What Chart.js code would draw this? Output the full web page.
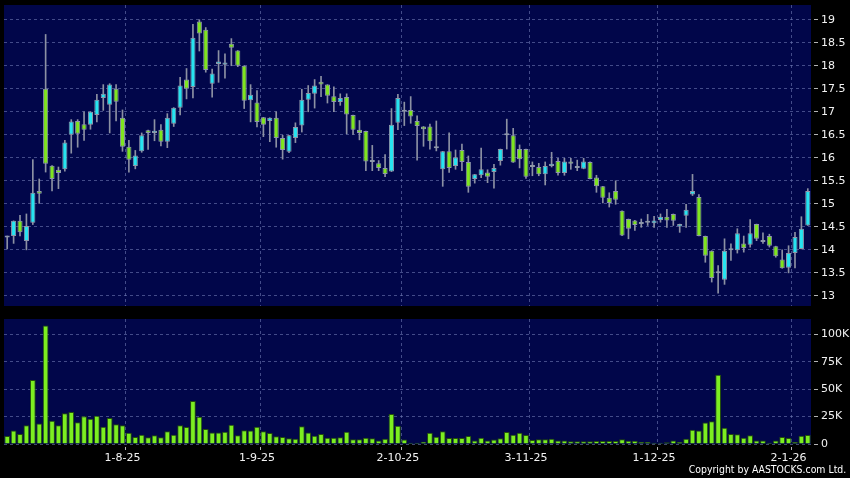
<!DOCTYPE html>
<html>
<head>
<meta charset="utf-8">
<script src="https://cdn.jsdelivr.net/npm/chart.js@4.4.1/dist/chart.umd.min.js"></script>
<style>
  html, body { margin: 0; padding: 0; background: #000; }
  #wrap { position: relative; width: 850px; height: 478px; overflow: hidden; background: #000; }
  #priceChart { position: absolute; left: 0; top: 0; }
  #volumeChart { position: absolute; left: 0; top: 312px; }
  #copy {
    position: absolute; right: 4px; top: 463px;
    font: 11px "DejaVu Sans", sans-serif; line-height: 13px; color: #fff;
    white-space: nowrap; transform: scaleX(0.85); transform-origin: right center;
  }
</style>
</head>
<body>
<div id="wrap">
  <canvas id="priceChart" width="850" height="312"></canvas>
  <canvas id="volumeChart" width="850" height="166"></canvas>
  <div id="copy">Copyright by AASTOCKS.com Ltd.</div>
</div>
<script>
// trading days, d-m-yy
const dates = [
  '8-7-25','9-7-25','10-7-25','11-7-25','14-7-25','15-7-25','16-7-25','17-7-25','18-7-25','21-7-25',
  '22-7-25','23-7-25','24-7-25','25-7-25','28-7-25','29-7-25','30-7-25','31-7-25',
  '1-8-25','4-8-25','5-8-25','6-8-25','7-8-25','8-8-25','11-8-25','12-8-25','13-8-25','14-8-25',
  '15-8-25','18-8-25','19-8-25','20-8-25','21-8-25','22-8-25','25-8-25','26-8-25','27-8-25','28-8-25','29-8-25',
  '1-9-25','2-9-25','3-9-25','4-9-25','5-9-25','8-9-25','9-9-25','10-9-25','11-9-25','12-9-25',
  '15-9-25','16-9-25','17-9-25','18-9-25','19-9-25','22-9-25','23-9-25','24-9-25','25-9-25','26-9-25','29-9-25','30-9-25',
  '2-10-25','3-10-25','6-10-25','8-10-25','9-10-25','10-10-25','13-10-25','14-10-25','15-10-25','16-10-25',
  '17-10-25','20-10-25','21-10-25','22-10-25','23-10-25','24-10-25','27-10-25','28-10-25','30-10-25','31-10-25',
  '3-11-25','4-11-25','5-11-25','6-11-25','7-11-25','10-11-25','11-11-25','12-11-25','13-11-25','14-11-25',
  '17-11-25','18-11-25','19-11-25','20-11-25','21-11-25','24-11-25','25-11-25','26-11-25','27-11-25','28-11-25',
  '1-12-25','2-12-25','3-12-25','4-12-25','5-12-25','8-12-25','9-12-25','10-12-25','11-12-25','12-12-25',
  '15-12-25','16-12-25','17-12-25','18-12-25','19-12-25','22-12-25','23-12-25','24-12-25','29-12-25','30-12-25','31-12-25',
  '2-1-26','5-1-26','6-1-26','7-1-26'
];

const openPx = [
  14.27,14.30,14.63,14.19,14.59,15.28,17.50,15.83,15.74,15.75,
  16.50,16.80,16.73,16.72,16.93,17.30,17.15,17.50,16.87,16.24,
  15.82,16.14,16.60,16.54,16.61,16.35,16.74,17.09,17.70,17.54,
  18.96,18.78,17.61,18.04,18.02,18.48,18.33,18.00,17.25,17.20,
  16.88,16.80,16.87,16.43,16.13,16.43,16.70,17.26,17.39,17.65,
  17.59,17.34,17.21,17.32,16.93,16.61,16.58,15.91,15.88,15.78,
  15.70,16.76,17.00,17.04,16.80,16.68,16.68,16.21,15.75,16.14,
  15.82,16.17,15.91,15.54,15.62,15.68,15.69,15.93,16.49,16.49,
  16.19,16.19,15.80,15.80,15.64,15.82,15.93,15.67,15.92,15.78,
  15.76,15.91,15.57,15.38,15.13,15.28,14.85,14.67,14.64,14.56,
  14.59,14.58,14.65,14.72,14.78,14.51,14.74,15.20,15.15,14.30,
  13.98,13.49,13.35,13.99,13.99,14.14,14.11,14.56,14.17,14.30,
  14.08,13.79,13.61,13.93,14.02,14.53
];
const highPx = [
  14.30,14.63,14.75,14.78,15.96,15.54,18.68,15.83,15.80,16.38,
  16.83,16.83,17.00,17.00,17.38,17.59,17.61,17.59,17.04,16.38,
  16.16,16.54,16.60,16.83,16.72,16.96,17.09,17.75,17.94,18.90,
  19.00,18.83,17.93,18.33,18.26,18.59,18.33,18.00,17.59,17.46,
  16.88,16.87,17.00,16.49,16.49,16.76,17.49,17.57,17.70,17.77,
  17.59,17.54,17.39,17.39,16.93,16.81,16.58,16.27,15.94,16.07,
  17.07,17.38,17.21,17.33,16.91,16.68,16.73,16.80,16.14,16.54,
  16.17,16.30,16.04,15.64,16.21,15.74,15.86,16.19,16.84,16.64,
  16.28,16.19,15.91,15.88,15.91,16.12,15.99,15.99,15.99,15.95,
  15.99,15.91,15.62,15.38,15.24,15.50,14.85,14.67,14.64,14.67,
  14.77,14.73,14.78,14.88,14.78,14.56,14.99,15.64,15.20,14.30,
  13.98,13.66,14.24,14.13,14.46,14.30,14.66,14.56,14.37,14.34,
  14.08,14.00,14.09,14.38,14.72,15.33
];
const lowPx = [
  14.02,14.14,14.30,14.00,14.55,15.01,15.69,15.28,15.33,15.71,
  16.10,16.23,16.38,16.62,16.78,17.03,16.54,16.80,16.14,15.69,
  15.76,16.12,16.18,16.37,16.26,16.22,16.68,16.93,17.28,17.30,
  18.32,17.86,17.32,17.64,17.73,18.00,17.98,17.07,16.78,16.67,
  16.46,16.35,16.23,15.97,16.11,16.33,16.56,17.00,17.08,17.33,
  17.19,17.00,17.14,16.52,16.51,16.39,15.72,15.72,15.72,15.59,
  15.70,16.61,16.70,16.75,15.95,16.25,16.19,16.15,15.38,15.68,
  15.75,15.72,15.25,15.45,15.57,15.46,15.34,15.84,16.19,15.90,
  15.78,15.55,15.61,15.61,15.41,15.80,15.62,15.62,15.75,15.72,
  15.76,15.54,15.25,15.02,14.93,14.99,14.31,14.24,14.42,14.49,
  14.53,14.49,14.60,14.49,14.53,14.38,14.49,15.18,14.30,13.73,
  13.30,13.06,13.25,13.77,13.93,13.95,14.06,14.20,14.14,14.06,
  13.84,13.60,13.50,13.61,14.02,14.53
];
const closePx = [
  14.27,14.63,14.38,14.52,15.24,15.22,15.87,15.54,15.67,16.33,
  16.79,16.52,16.61,17.00,17.26,17.39,17.59,17.22,16.24,15.96,
  16.05,16.49,16.54,16.59,16.35,16.87,17.09,17.57,17.50,18.61,
  18.70,17.91,17.83,18.09,18.07,18.39,18.00,17.24,17.37,16.78,
  16.72,16.87,16.43,16.17,16.49,16.67,17.26,17.41,17.57,17.59,
  17.35,17.21,17.30,16.94,16.61,16.54,15.92,15.91,15.78,15.65,
  16.72,17.30,17.04,16.90,16.69,16.62,16.36,16.21,16.14,15.78,
  16.01,15.91,15.37,15.64,15.75,15.59,15.78,16.19,16.49,15.90,
  15.97,15.59,15.80,15.64,15.82,15.87,15.67,15.92,15.87,15.78,
  15.92,15.54,15.38,15.13,15.02,15.09,14.31,14.46,14.54,14.56,
  14.59,14.64,14.72,14.64,14.63,14.56,14.87,15.28,14.30,13.87,
  13.39,13.49,13.98,13.99,14.36,14.04,14.36,14.24,14.17,14.09,
  13.86,13.60,13.93,14.28,14.46,15.28
];
const volume = [
  7300,12200,9100,17000,58400,18800,108000,21300,17000,28000,
  29200,19800,25200,23100,25800,15800,23700,17900,17000,10300,
  6400,8500,6100,7900,6100,11600,8500,17000,15500,39200,
  24900,13700,10600,10600,11200,17600,7900,12500,12200,15800,
  11600,10000,7000,6400,5200,4900,16100,10600,7600,9100,
  5800,5800,6100,11200,4300,4300,5800,5200,3300,4900,
  27400,16700,4000,1200,1200,2100,10300,6700,11600,5500,
  5500,5500,7300,3300,5800,3300,4000,5200,10900,8500,
  10300,8200,3600,4300,4300,4900,3300,3300,2400,2400,
  2400,2400,2700,2700,2700,2700,4300,3000,3000,1800,
  1800,1200,1200,1500,3300,1800,4900,13100,12200,19500,
  20700,63200,14900,9100,8800,5800,7900,3300,3300,1200,
  3300,6400,5500,1800,7600,8200
];

const tickDates = ['1-8-25', '1-9-25', '2-10-25', '3-11-25', '1-12-25', '2-1-26'];
const priceTickValues = [13, 13.5, 14, 14.5, 15, 15.5, 16, 16.5, 17, 17.5, 18, 18.5, 19];
const volumeTickValues = [0, 25000, 50000, 75000, 100000];
const priceRange = { min: 12.78, max: 19.32 };
const volumeRange = { min: 0, max: 114000 };

const PANEL = '#01064a';
const GRID = 'rgba(112,122,180,0.6)';
const UP = '#27e4f0';
const DOWN = '#7fe51f';
const FLAT = '#a9b1c9';
const WICK = '#8c91a3';
const VOL = '#7cee20';
const TXT = '#f2f2f2';

Chart.defaults.font.family = '"DejaVu Sans", sans-serif';
Chart.defaults.font.size = 11;
Chart.defaults.color = TXT;

const tickIdx = tickDates.map(d => dates.indexOf(d));
// offset grid lines fall half a day after the labelled candle, as in the reference
const gridIdx = new Set(tickIdx.map(i => i + 1));
const xGridColor = ctx => gridIdx.has(ctx.index) ? GRID : 'rgba(0,0,0,0)';

const bodyColors = closePx.map((c, i) => c > openPx[i] ? UP : (c < openPx[i] ? DOWN : FLAT));

const panelBg = {
    id: 'panelBg',
    beforeDraw(chart) {
        const a = chart.chartArea;
        const ctx = chart.ctx;
        ctx.save();
        ctx.fillStyle = PANEL;
        ctx.fillRect(a.left, a.top, a.right - a.left, a.bottom - a.top);
        ctx.restore();
    }
};

function rightAxis(range, values, fmt) {
    return {
        position: 'right',
        min: range.min,
        max: range.max,
        afterFit: axis => {
            axis.width = 39;
            // labels sit inside the panel, no extra room needed above/below
            axis.paddingTop = 0;
            axis.paddingBottom = 0;
        },
        afterBuildTicks: axis => { axis.ticks = values.map(v => ({ value: v })); },
        border: { display: false, dash: [3, 3] },
        grid: {
            color: GRID,
            tickLength: 8,
            tickColor: '#b4b4b4',
            tickBorderDash: [0, 3, 4, 20]
        },
        ticks: {
            padding: 2,
            color: TXT,
            callback: fmt
        }
    };
}

new Chart(document.getElementById('priceChart'), {
    type: 'bar',
    data: {
        labels: dates,
        datasets: [{
            label: 'High-Low',
            data: dates.map((_, i) => [lowPx[i], highPx[i]]),
            backgroundColor: WICK,
            barThickness: 1,
            grouped: false,
            order: 2
        }, {
            label: 'Open-Close',
            data: dates.map((_, i) => [openPx[i], closePx[i]]),
            backgroundColor: bodyColors,
            borderColor: '#8e97aa',
            borderWidth: 1,
            borderSkipped: false,
            barPercentage: 0.8,
            categoryPercentage: 1,
            minBarLength: 2,
            grouped: false,
            order: 1
        }]
    },
    options: {
        responsive: false,
        animation: false,
        layout: { padding: { left: 4, top: 5, right: 0, bottom: 6 } },
        plugins: { legend: { display: false }, tooltip: { enabled: false } },
        scales: {
            x: {
                offset: true,
                afterFit: axis => { axis.height = 0; },
                border: { display: false, dash: [3, 3] },
                grid: { offset: true, color: xGridColor, drawTicks: false },
                ticks: { display: false }
            },
            y: rightAxis(priceRange, priceTickValues, v => String(v))
        }
    },
    plugins: [panelBg]
});

new Chart(document.getElementById('volumeChart'), {
    type: 'bar',
    data: {
        labels: dates,
        datasets: [{
            label: 'Volume',
            data: volume,
            backgroundColor: VOL,
            borderColor: '#244f0c',
            borderWidth: 1,
            borderSkipped: 'bottom',
            barPercentage: 0.9,
            categoryPercentage: 1
        }]
    },
    options: {
        responsive: false,
        animation: false,
        layout: { padding: { left: 4, top: 7, right: 0, bottom: 0 } },
        plugins: { legend: { display: false }, tooltip: { enabled: false } },
        scales: {
            x: {
                offset: true,
                afterFit: axis => { axis.height = 34; },
                border: { display: false, dash: [3, 3] },
                grid: {
                    offset: true,
                    color: xGridColor,
                    tickLength: 6,
                    tickColor: ctx => gridIdx.has(ctx.index) ? '#b4b4b4' : 'rgba(0,0,0,0)',
                    tickBorderDash: [0, 3, 3, 20]
                },
                ticks: {
                    autoSkip: false,
                    maxRotation: 0,
                    minRotation: 0,
                    padding: 2,
                    color: TXT,
                    callback: (value, index) => tickIdx.includes(index) ? dates[index] : ''
                }
            },
            y: rightAxis(volumeRange, volumeTickValues, v => v === 0 ? '0' : (v / 1000) + 'K')
        }
    },
    plugins: [panelBg]
});
</script>
</body>
</html>
